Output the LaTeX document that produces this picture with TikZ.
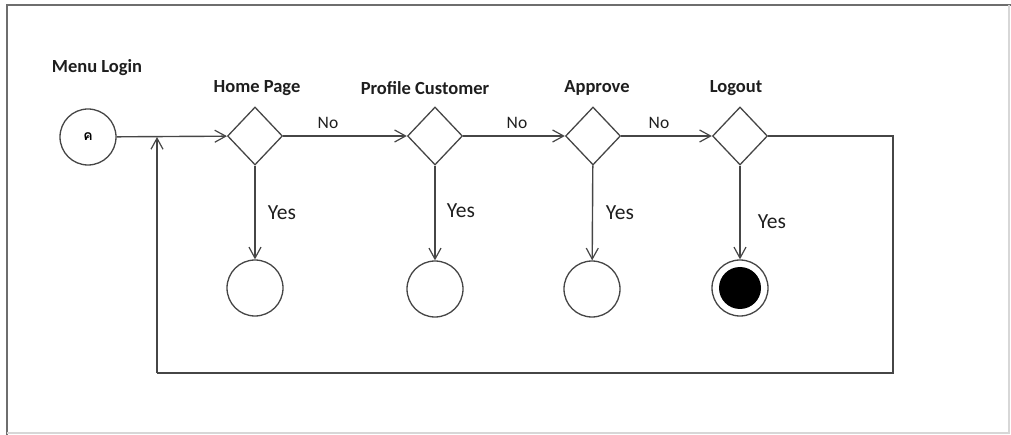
\documentclass[tikz,border=0pt]{standalone}
\usepackage{fontspec}
\setmainfont{Carlito}
\newfontfamily\thaifont[Script=Thai]{Loma}
\usetikzlibrary{shapes.geometric,arrows.meta}
\definecolor{linegray}{RGB}{70,70,70}
\definecolor{framegray}{RGB}{110,110,110}
\definecolor{lightframe}{RGB}{215,215,215}
\definecolor{txt}{RGB}{30,30,30}
\begin{document}
\begin{tikzpicture}[x=1pt,y=-1pt,
  conn/.style={draw=linegray,line width=1.4pt},
  arr/.style={conn,-{Straight Barb[length=11pt,width=12pt,line width=1.2pt]}},
  decision/.style={diamond,draw=linegray,line width=1.3pt,minimum width=55pt,minimum height=58pt,inner sep=0pt},
  state/.style={circle,draw=linegray,line width=1.3pt,minimum size=56pt,inner sep=0pt},
  title/.style={font=\bfseries\fontsize{18.5}{22}\selectfont,text=txt},
  nolabel/.style={font=\fontsize{17.5}{20}\selectfont,text=txt},
  yeslabel/.style={font=\fontsize{21.5}{24}\selectfont,text=txt}]
\useasboundingbox (0,0) rectangle (1011,435);
% frame
\draw[framegray,line width=2pt] (7,435) -- (7,5) -- (1011,5);
\draw[lightframe,line width=1.5pt] (7,433) -- (1009,433) -- (1009,5);
% nodes
\node[state] (start) at (88,137) {\thaifont\bfseries\fontsize{14}{15}\selectfont ค};
\node[decision] (home) at (255,136) {};
\node[decision] (prof) at (435,136) {};
\node[decision] (appr) at (593,136) {};
\node[decision] (logo) at (740,136) {};
\node[state] (homeS) at (255,288) {};
\node[state] (profS) at (435,289) {};
\node[state] (apprS) at (592,289) {};
\node[state] (logoS) at (740,288) {};
\node[circle,fill=black,minimum size=42pt,inner sep=0pt] (logoIn) at (740,288) {};
% labels
\node[title] (lMenu) at (97,68) {Menu Login};
\node[title] (lHome) at (257,88) {Home Page};
\node[title] (lProf) at (425,88) {Profile Customer};
\node[title] (lAppr) at (597,88) {Approve};
\node[title] (lLogo) at (736,88) {Logout};
\node[nolabel] (no1) at (328,123) {No};
\node[nolabel] (no2) at (517,123) {No};
\node[nolabel] (no3) at (659,123) {No};
\node[yeslabel] (y1) at (282,213) {Yes};
\node[yeslabel] (y2) at (461,211) {Yes};
\node[yeslabel] (y3) at (620,213) {Yes};
\node[yeslabel] (y4) at (772,222) {Yes};
% coordinates
\coordinate (jn) at (157,137);
\coordinate (c1) at (893,136);
\coordinate (c2) at (893,373);
\coordinate (c3) at (157,373);
% connectors
\draw[arr] (start) -- (home);
\draw[arr] (home) -- (prof);
\draw[arr] (prof) -- (appr);
\draw[arr] (appr) -- (logo);
\draw[arr] (home) -- (homeS);
\draw[arr] (prof) -- (profS);
\draw[arr] (appr) -- (apprS);
\draw[arr] (logo) -- (logoS);
\draw[conn] (logo.east) -- (c1) -- (c2) -- (c3);
\draw[arr] (c3) -- (jn);
\end{tikzpicture}
\end{document}
